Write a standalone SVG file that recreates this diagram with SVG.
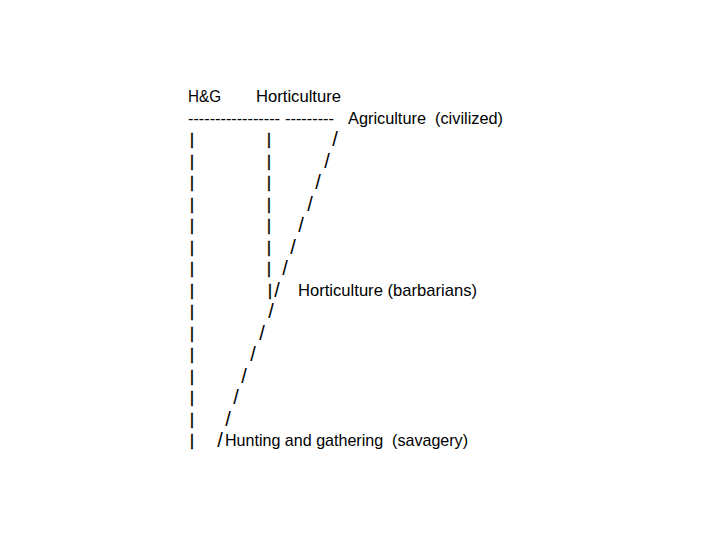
<svg xmlns="http://www.w3.org/2000/svg" width="720" height="540" viewBox="0 0 720 540">
<style>
text{font-family:"Liberation Sans",Arial,sans-serif;font-size:17px;fill:#000;white-space:pre}
.c{text-anchor:middle}
.s{font-size:20px}
.p{stroke:#000;stroke-width:0.3}
</style>
<rect width="720" height="540" fill="#fff"/>
<g id="labels">
<g id="hg-header"><text x="188" y="102" textLength="33" lengthAdjust="spacingAndGlyphs">H&amp;G</text></g>
<g id="horticulture-header"><text x="256" y="102" textLength="85" lengthAdjust="spacingAndGlyphs">Horticulture</text></g>
<g id="agriculture"><text x="348" y="123.5" textLength="155" lengthAdjust="spacingAndGlyphs">Agriculture  (civilized)</text></g>
<g id="horticulture-barbarians"><text x="298" y="296" textLength="179" lengthAdjust="spacingAndGlyphs">Horticulture (barbarians)</text></g>
<g id="hunting"><text x="225" y="446" textLength="243" lengthAdjust="spacingAndGlyphs">Hunting and gathering  (savagery)</text></g>
</g>
<g id="connectors">
<text x="188" y="123.5" textLength="92" lengthAdjust="spacingAndGlyphs">-----------------</text>
<text x="285" y="123.5" textLength="49" lengthAdjust="spacingAndGlyphs">---------</text>
<g id="left-bars" class="p">
<text class="c" x="192" y="145">|</text>
<text class="c" x="192" y="166.5">|</text>
<text class="c" x="192" y="188">|</text>
<text class="c" x="192" y="209.5">|</text>
<text class="c" x="192" y="231">|</text>
<text class="c" x="192" y="252.5">|</text>
<text class="c" x="192" y="274">|</text>
<text class="c" x="192" y="296">|</text>
<text class="c" x="192" y="317">|</text>
<text class="c" x="192" y="338.5">|</text>
<text class="c" x="192" y="360">|</text>
<text class="c" x="192" y="381.5">|</text>
<text class="c" x="192" y="403">|</text>
<text class="c" x="192" y="424.5">|</text>
<text class="c" x="192" y="446">|</text>
</g>
<g id="mid-bars" class="p">
<text class="c" x="269" y="145">|</text>
<text class="c" x="269" y="166.5">|</text>
<text class="c" x="269" y="188">|</text>
<text class="c" x="269" y="209.5">|</text>
<text class="c" x="269" y="231">|</text>
<text class="c" x="269" y="252.5">|</text>
<text class="c" x="269" y="274">|</text>
<text class="c" x="270" y="296">|</text>
</g>
<g id="slashes">
<text class="c s" x="335" y="146">/</text>
<text class="c s" x="327" y="167.5">/</text>
<text class="c s" x="318" y="189">/</text>
<text class="c s" x="310" y="210.5">/</text>
<text class="c s" x="301" y="232">/</text>
<text class="c s" x="293" y="253.5">/</text>
<text class="c s" x="285" y="275">/</text>
<text class="c s" x="277" y="297">/</text>
<text class="c s" x="271" y="318">/</text>
<text class="c s" x="262" y="339.5">/</text>
<text class="c s" x="253" y="361">/</text>
<text class="c s" x="244" y="382.5">/</text>
<text class="c s" x="236" y="404">/</text>
<text class="c s" x="228" y="425.5">/</text>
<text class="c s" x="220" y="447">/</text>
</g>
</g>
</svg>
